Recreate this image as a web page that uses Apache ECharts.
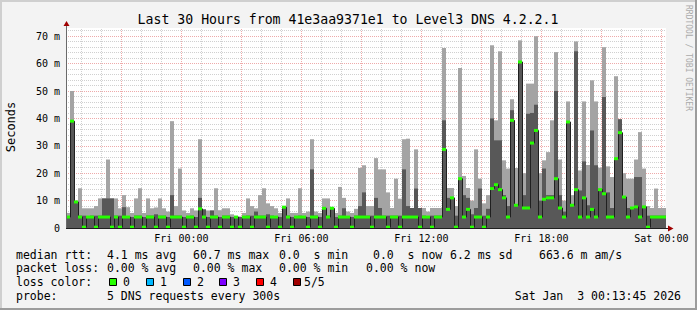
<!DOCTYPE html>
<html><head><meta charset="utf-8">
<script src="https://cdn.jsdelivr.net/npm/echarts@6/dist/echarts.min.js"></script>
<style>html,body{margin:0;padding:0;background:#f3f3f3}#c{width:697px;height:310px}</style>
</head><body><div id="c"></div>
<script>
// time axis in hours relative to Fri 00:00; first sample Thu 18:13:45, 12-minute slots
const startHour = -5.7708333;
const stepHour = 0.2;
const spanHours = 30;

// slowest ping (top of light smoke), 4th ping (top of dark smoke), median — in ms
const maxRtt = [
5.5,50,10,14.5,7.2,7.2,7.2,8,10.8,10.8, 25,10.8,10.8,7.2,12,7.6,5.5,10.8,14.5,5.5,
10.8,7.2,7.5,10.8,7.2,6,39,8,21.7,6.4, 5.5,7.2,6.4,32.4,6.8,6.4,6.4,14.5,6.5,7.2,
7.2,5,4.2,4.2,5.5,10.8,8,7.2,12,14.5, 9,8,7.2,5.5,8,10.8,5.5,5.5,14.5,5.5,
6,32.4,6,5.5,10.8,10.8,7.2,5.5,15,11, 6,5.5,7,21.9,22.9,8,8,25.5,21.4,21.4,
13,7.3,18,10.7,32.4,32.6,7.3,28.7,7.3,7.3, 6,7.3,7.3,7.3,65.7,14.6,14.6,8,58.4,19,
14.6,10,28.7,18,9,12,66.7,39.3,64.5,24.7, 21.7,47,21.9,68.5,20,52.7,52.7,70,20,24.7,
27.7,39.3,64.2,25,10,46.2,12,68.1,21,46.2, 23,53.9,46.2,22,66,22.5,18.6,55.4,39.7,20,
18,18,25,35,21.7,8,7.3,14.4,7.3,7.3
];
const upperRtt = [
4,39,9.5,4.5,4.5,4,4.5,4.5,4.5,10.8, 10.8,10.8,4.5,4.5,7.6,4,4,4.5,4.5,4,
4.5,4.5,5,4.5,4.5,4,12,4.5,4.5,4, 4,4.5,4,11,6.8,4,6.4,4.5,4,4.5,
4.5,4,4,4,4,4.5,4.5,6,4.5,4.5, 5,4.5,4,4,7.6,4.5,4,4,4.5,4,
4,21.4,4.5,4,7.2,4.5,7.2,4,4.5,7.2, 4,4,4.5,8,13,4.5,4.5,11,7.3,4.5,
4.5,4.5,4.5,4.5,21.4,8,7.3,14.4,7.3,4.5, 4,4.5,4.5,4.5,39.3,11,11,4.5,18,12,
11,5,7.3,14.4,4.5,7,40,32,32,12, 8,43,8.3,60.6,12,41.7,42,45,10,21.7,
12,12,50,12,6,38.7,8.3,64.5,13.7,24.3, 8.3,35.6,22.9,14,47.8,13,7.3,25.3,39.7,11.3,
7.3,7.3,18.6,18.6,7.7,4.5,4.5,4.5,4.5,4.5
];
const medianRtt = [
4,39,9.5,4,0.3,4,4,0.3,4,4, 4,0.3,4,0.3,4,4,0.3,4,4,0.3,
4,4,0.3,4,4,0.3,4,4,4,0.3, 4,4,0.3,7,4,0.3,4,4,0.3,4,
4,0.3,4,0.3,4,4,0.3,4,4,4, 0.3,4,4,0.3,7.6,4,0.3,4,4,4,
0.3,4,4,0.3,7.2,4,7.2,0.3,4,4, 4,0.3,4,4,4,4,0.3,4,4,4,
0.3,4,4,0.3,4,4,4,4,0.3,4, 4,0.3,4,4,28.7,6.8,11,0.3,18,4,
6.8,0.3,4,4,0.3,4,14.4,15.8,14,11, 4,39.3,8.3,60.6,7.3,7.3,31,35.6,4,10.5,
11,11,18,7.3,4,38.7,8.3,14,4,11, 4,6.8,4,14,12.5,4,4,25.3,34.8,11.3,
4,7.3,7.7,4,7.7,0.3,4,4,4,4
];

const xTickHours = [0, 6, 12, 18, 24];
const xTickLabels = ['Fri 00:00', 'Fri 06:00', 'Fri 12:00', 'Fri 18:00', 'Sat 00:00'];
const yTickValues = [0, 10, 20, 30, 40, 50, 60, 70];
const yTickLabels = ['0', '10 m', '20 m', '30 m', '40 m', '50 m', '60 m', '70 m'];
const yMax = 73;

const lossLabels = ['0', '1', '2', '3', '4', '5/5'];
const lossColors = ['#26ff00', '#00b8ff', '#0059ff', '#7e00ff', '#ff0000', '#a00000'];

const MONO = '"DejaVu Sans Mono", monospace';

const smokeData = maxRtt.map((v, i) => [startHour + i * stepHour, v, upperRtt[i], medianRtt[i], i > 0 ? medianRtt[i - 1] : medianRtt[i]]);

// grid lines
const minorX = [], majorX = [], minorY = [], majorY = [];
for (let h = Math.ceil(startHour); h <= startHour + spanHours; h++) (h % 3 === 0 ? majorX : minorX).push(h);
for (let v = 2; v <= yMax; v += 2) (v % 10 === 0 ? majorY : minorY).push(v);

const chart = echarts.init(document.getElementById('c'), null, {renderer: 'svg'});

function gridLine(list, key, color) {
  return {
    type: 'line', data: [], silent: true, z: 1,
    markLine: {
      silent: true, symbol: ['none', 'none'], animation: false,
      label: {show: false},
      lineStyle: {color: color, width: 1, type: [1, 1]},
      emphasis: {disabled: true},
      data: list.map(v => ({[key]: v}))
    }
  };
}

const legendLines = [
  [255, [[16, 'median rtt:'], [107, '4.1 ms avg'], [193, '60.7 ms max'], [279, '0.0  s min'], [373, '0.0  s now'], [450, '6.2 ms sd'], [539, '663.6 m am/s']]],
  [268, [[16, 'packet loss:'], [107, '0.00 % avg'], [193, '0.00 % max'], [279, '0.00 % min'], [366, '0.00 % now']]],
  [282, [[16, 'loss color:']]],
  [296, [[16, 'probe:'], [107, '5 DNS requests every 300s']]]
];

const graphics = [];
// frame
graphics.push({type: 'rect', shape: {x: 0, y: 0, width: 697, height: 2}, style: {fill: '#cfcfcf'}, silent: true});
graphics.push({type: 'rect', shape: {x: 0, y: 0, width: 2, height: 310}, style: {fill: '#cfcfcf'}, silent: true});
graphics.push({type: 'rect', shape: {x: 695, y: 0, width: 2, height: 310}, style: {fill: '#9c9c9c'}, silent: true});
graphics.push({type: 'rect', shape: {x: 0, y: 308, width: 697, height: 2}, style: {fill: '#9c9c9c'}, silent: true});
// axes and arrows
graphics.push({type: 'line', shape: {x1: 66.5, y1: 228, x2: 66.5, y2: 25}, style: {stroke: '#6a6a6a', lineWidth: 1}, z: 50, silent: true});
graphics.push({type: 'line', shape: {x1: 66, y1: 228.5, x2: 669, y2: 228.5}, style: {stroke: '#202020', lineWidth: 1}, z: 50, silent: true});
graphics.push({type: 'polygon', shape: {points: [[63.5, 26], [69.5, 26], [66.5, 21]]}, style: {fill: '#a00000'}, z: 50, silent: true});
graphics.push({type: 'polygon', shape: {points: [[668, 225.5], [668, 231.5], [673.5, 228.5]]}, style: {fill: '#a00000'}, z: 50, silent: true});
// title
graphics.push({type: 'text', x: 348, y: 19, style: {text: 'Last 30 Hours from 41e3aa9371e1 to Level3 DNS 4.2.2.1', font: '13.2px ' + MONO, fill: '#000', align: 'center', verticalAlign: 'middle'}, silent: true});
// y title
graphics.push({type: 'text', x: 11, y: 127, rotation: Math.PI / 2, style: {text: 'Seconds', font: '12px ' + MONO, fill: '#000', align: 'center', verticalAlign: 'middle'}, silent: true});
// watermark
graphics.push({type: 'text', x: 688, y: 58, rotation: -Math.PI / 2, style: {text: 'RRDTOOL / TOBI OETIKER', font: '8px ' + MONO, fill: '#aaaaaa', align: 'center', verticalAlign: 'middle'}, silent: true});
// legend
legendLines.forEach(([y, segs]) => segs.forEach(([x, t]) => graphics.push({type: 'text', x: x, y: y, style: {text: t, font: '11.5px ' + MONO, fill: '#000', align: 'left', verticalAlign: 'middle'}, silent: true})));
const boxX = [109, 146, 183, 219, 256, 293];
const boxLabelX = [123, 160, 197, 233, 270, 304];
lossLabels.forEach((lab, k) => {
  graphics.push({type: 'rect', shape: {x: boxX[k] + 0.5, y: 278.5, width: 7, height: 7}, style: {fill: lossColors[k], stroke: '#000', lineWidth: 1}, silent: true});
  graphics.push({type: 'text', x: boxLabelX[k], y: 282, style: {text: lab, font: '11.5px ' + MONO, fill: '#000', align: 'left', verticalAlign: 'middle'}, silent: true});
});
graphics.push({type: 'text', x: 681, y: 296, style: {text: 'Sat Jan  3 00:13:45 2026', font: '11.5px ' + MONO, fill: '#000', align: 'right', verticalAlign: 'middle'}, silent: true});

chart.setOption({
  animation: false,
  backgroundColor: '#f3f3f3',
  grid: {left: 66, top: 28, width: 600, height: 200, show: true, backgroundColor: '#ffffff', borderWidth: 0},
  xAxis: {
    type: 'value', min: startHour, max: startHour + spanHours,
    axisLine: {show: false}, axisTick: {show: false}, splitLine: {show: false},
    axisLabel: {
      customValues: xTickHours, margin: 5,
      formatter: v => { const k = xTickHours.indexOf(Math.round(v)); return k >= 0 ? xTickLabels[k] : ''; },
      fontFamily: MONO, fontSize: 10, color: '#000'
    }
  },
  yAxis: {
    type: 'value', min: 0, max: yMax,
    axisLine: {show: false}, axisTick: {show: false}, splitLine: {show: false},
    axisLabel: {
      customValues: yTickValues, margin: 6,
      formatter: v => { const k = yTickValues.indexOf(Math.round(v)); return k >= 0 ? yTickLabels[k] : ''; },
      fontFamily: MONO, fontSize: 10, color: '#000'
    }
  },
  graphic: graphics,
  series: [
    gridLine(minorY, 'yAxis', '#d0d0d0'),
    gridLine(minorX, 'xAxis', '#d0d0d0'),
    gridLine(majorY, 'yAxis', '#eeaaaa'),
    gridLine(majorX, 'xAxis', '#eeaaaa'),
    {
      type: 'custom', z: 5, clip: true, silent: true, data: smokeData,
      renderItem: (params, api) => {
        const t = api.value(0);
        const b = api.coord([t, 0]);
        const e = api.coord([t + stepHour, api.value(1)]);
        const q = api.coord([t, api.value(2)]);
        const w = e[0] - b[0];
        return {type: 'group', children: [
          {type: 'rect', shape: {x: b[0], y: e[1], width: w, height: b[1] - e[1]}, style: {fill: '#a4a4a4'}},
          {type: 'rect', shape: {x: b[0], y: q[1], width: w, height: b[1] - q[1]}, style: {fill: '#585858'}}
        ]};
      }
    },
    {
      type: 'custom', z: 6, clip: true, silent: true, data: smokeData,
      renderItem: (params, api) => {
        const t = api.value(0);
        const pPrev = api.coord([t, api.value(4)]);
        const pCur = api.coord([t, api.value(3)]);
        const pEnd = api.coord([t + stepHour, api.value(3)]);
        return {type: 'polyline', shape: {points: [[pPrev[0] + 0.5, pPrev[1]], [pCur[0] + 0.5, pCur[1]], [pEnd[0] + 0.5, pEnd[1]]]}, style: {stroke: '#202020', lineWidth: 1, fill: null}};
      }
    },
    {
      type: 'custom', z: 7, clip: true, silent: true, data: smokeData,
      renderItem: (params, api) => {
        const t = api.value(0);
        const p = api.coord([t, api.value(3)]);
        const e = api.coord([t + stepHour, api.value(3)]);
        return {type: 'rect', shape: {x: p[0], y: p[1] - 1.5, width: e[0] - p[0], height: 3}, style: {fill: lossColors[0]}};
      }
    }
  ]
});
</script>
</body></html>
